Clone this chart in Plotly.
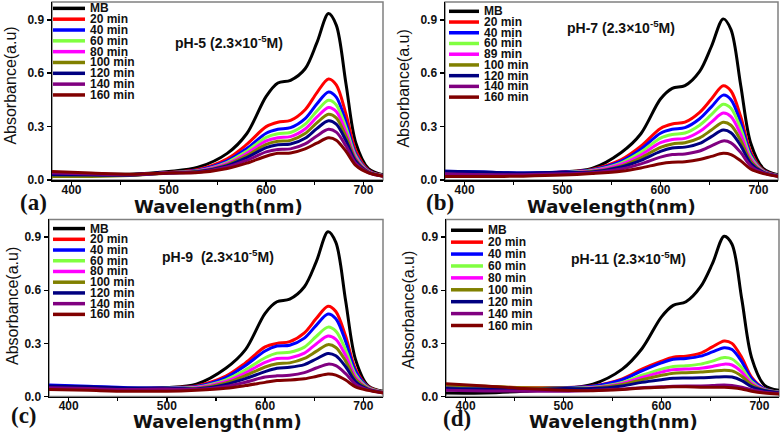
import plotly.graph_objects as go

# ---------------- data ----------------
WL = [380, 420, 460, 500, 530, 560, 580, 600, 612, 625, 640, 652, 664, 672, 682, 692, 705, 720]

LABELS_A = ["MB", "20 min", "40 min", "60 min", "80 min", "100 min", "120 min", "140 min", "160 min"]
LABELS_B = ["MB", "20 min", "40 min", "60 min", "89 min", "100 min", "120 min", "140 min", "160 min"]
COLORS = ["#000000", "#FF0000", "#0000FF", "#80FF40", "#FF00FF", "#808000", "#000080", "#800080", "#800000"]
X_TICKS = [400, 500, 600, 700]
Y_TICKS = [0.0, 0.3, 0.6, 0.9]
Y_TICK_TEXT = ["0.0", "0.3", "0.6", "0.9"]

# pH-5
A_MB = [0.040, 0.036, 0.033, 0.048, 0.072, 0.150, 0.260, 0.470, 0.545, 0.560, 0.625, 0.770, 0.935, 0.870, 0.540, 0.210, 0.065, 0.030]
A_20 = [0.040, 0.035, 0.030, 0.043, 0.060, 0.120, 0.200, 0.300, 0.325, 0.335, 0.395, 0.490, 0.568, 0.535, 0.370, 0.165, 0.055, 0.025]
A_40 = [0.035, 0.030, 0.030, 0.042, 0.056, 0.108, 0.177, 0.263, 0.285, 0.294, 0.345, 0.427, 0.495, 0.466, 0.324, 0.147, 0.052, 0.025]
A_60 = [0.030, 0.028, 0.028, 0.041, 0.053, 0.100, 0.162, 0.240, 0.260, 0.267, 0.314, 0.387, 0.448, 0.422, 0.294, 0.135, 0.049, 0.025]
A_80 = [0.035, 0.030, 0.029, 0.041, 0.051, 0.093, 0.150, 0.220, 0.238, 0.244, 0.287, 0.353, 0.408, 0.385, 0.269, 0.125, 0.048, 0.024]
A_100 = [0.020, 0.020, 0.025, 0.040, 0.049, 0.087, 0.137, 0.201, 0.218, 0.223, 0.261, 0.321, 0.370, 0.349, 0.245, 0.115, 0.046, 0.024]
A_120 = [0.030, 0.028, 0.027, 0.040, 0.047, 0.081, 0.126, 0.182, 0.198, 0.202, 0.235, 0.289, 0.333, 0.314, 0.221, 0.106, 0.044, 0.023]
A_140 = [0.040, 0.034, 0.030, 0.040, 0.044, 0.073, 0.111, 0.158, 0.172, 0.175, 0.203, 0.248, 0.285, 0.269, 0.191, 0.094, 0.042, 0.022]
A_160 = [0.048, 0.040, 0.033, 0.040, 0.042, 0.065, 0.095, 0.134, 0.150, 0.152, 0.175, 0.207, 0.237, 0.224, 0.161, 0.082, 0.040, 0.022]

# pH-7
B_MB = [0.030, 0.030, 0.035, 0.045, 0.065, 0.155, 0.260, 0.455, 0.515, 0.530, 0.610, 0.750, 0.905, 0.845, 0.530, 0.210, 0.065, 0.030]
B_20 = [0.040, 0.035, 0.035, 0.045, 0.060, 0.115, 0.190, 0.290, 0.315, 0.325, 0.380, 0.455, 0.529, 0.500, 0.355, 0.160, 0.055, 0.025]
B_40 = [0.050, 0.045, 0.040, 0.045, 0.057, 0.106, 0.173, 0.263, 0.285, 0.294, 0.344, 0.411, 0.477, 0.451, 0.321, 0.146, 0.052, 0.025]
B_60 = [0.035, 0.032, 0.032, 0.042, 0.054, 0.097, 0.157, 0.236, 0.256, 0.264, 0.308, 0.367, 0.426, 0.403, 0.288, 0.133, 0.050, 0.025]
B_89 = [0.030, 0.030, 0.030, 0.040, 0.051, 0.089, 0.141, 0.210, 0.228, 0.234, 0.273, 0.325, 0.376, 0.356, 0.255, 0.120, 0.047, 0.024]
B_100 = [0.030, 0.030, 0.030, 0.040, 0.048, 0.080, 0.125, 0.184, 0.203, 0.210, 0.237, 0.281, 0.325, 0.308, 0.222, 0.107, 0.045, 0.024]
B_120 = [0.050, 0.045, 0.040, 0.043, 0.045, 0.073, 0.110, 0.161, 0.180, 0.185, 0.206, 0.244, 0.281, 0.266, 0.193, 0.095, 0.043, 0.023]
B_140 = [0.035, 0.030, 0.030, 0.035, 0.041, 0.062, 0.091, 0.129, 0.143, 0.147, 0.163, 0.192, 0.220, 0.209, 0.154, 0.080, 0.040, 0.022]
B_160 = [0.020, 0.020, 0.022, 0.028, 0.037, 0.050, 0.068, 0.092, 0.100, 0.103, 0.115, 0.133, 0.150, 0.143, 0.108, 0.062, 0.036, 0.020]

# pH-9
C_MB = [0.055, 0.050, 0.045, 0.050, 0.070, 0.160, 0.265, 0.470, 0.535, 0.550, 0.620, 0.760, 0.930, 0.870, 0.540, 0.210, 0.060, 0.030]
C_20 = [0.055, 0.050, 0.045, 0.050, 0.060, 0.115, 0.190, 0.280, 0.300, 0.310, 0.360, 0.440, 0.510, 0.480, 0.340, 0.155, 0.055, 0.025]
C_40 = [0.065, 0.058, 0.050, 0.050, 0.057, 0.107, 0.175, 0.257, 0.285, 0.290, 0.330, 0.402, 0.466, 0.439, 0.311, 0.143, 0.053, 0.025]
C_60 = [0.050, 0.045, 0.042, 0.048, 0.053, 0.094, 0.151, 0.219, 0.245, 0.250, 0.279, 0.339, 0.392, 0.369, 0.264, 0.124, 0.049, 0.025]
C_80 = [0.050, 0.045, 0.040, 0.046, 0.050, 0.085, 0.134, 0.193, 0.215, 0.218, 0.245, 0.297, 0.342, 0.323, 0.232, 0.111, 0.046, 0.024]
C_100 = [0.045, 0.040, 0.038, 0.045, 0.046, 0.077, 0.118, 0.167, 0.185, 0.190, 0.215, 0.255, 0.293, 0.277, 0.200, 0.098, 0.044, 0.024]
C_120 = [0.060, 0.055, 0.048, 0.048, 0.043, 0.068, 0.101, 0.141, 0.160, 0.165, 0.180, 0.212, 0.243, 0.230, 0.168, 0.085, 0.041, 0.023]
C_140 = [0.050, 0.045, 0.040, 0.042, 0.040, 0.057, 0.081, 0.110, 0.117, 0.120, 0.135, 0.161, 0.183, 0.174, 0.129, 0.070, 0.038, 0.022]
C_160 = [0.040, 0.035, 0.030, 0.030, 0.036, 0.047, 0.062, 0.080, 0.090, 0.093, 0.100, 0.113, 0.127, 0.121, 0.093, 0.055, 0.035, 0.020]

# pH-11
D_MB = [0.020, 0.020, 0.030, 0.045, 0.070, 0.155, 0.270, 0.450, 0.515, 0.535, 0.620, 0.750, 0.905, 0.860, 0.550, 0.220, 0.065, 0.035]
D_20 = [0.060, 0.055, 0.050, 0.050, 0.060, 0.100, 0.155, 0.200, 0.222, 0.228, 0.245, 0.280, 0.314, 0.300, 0.220, 0.110, 0.045, 0.025]
D_40 = [0.050, 0.048, 0.045, 0.050, 0.058, 0.095, 0.145, 0.190, 0.210, 0.215, 0.228, 0.252, 0.276, 0.265, 0.197, 0.100, 0.043, 0.025]
D_60 = [0.045, 0.042, 0.040, 0.045, 0.052, 0.080, 0.120, 0.155, 0.170, 0.174, 0.183, 0.200, 0.220, 0.212, 0.162, 0.085, 0.040, 0.024]
D_80 = [0.040, 0.040, 0.038, 0.045, 0.050, 0.074, 0.108, 0.138, 0.152, 0.155, 0.160, 0.170, 0.183, 0.178, 0.138, 0.075, 0.038, 0.023]
D_100 = [0.065, 0.058, 0.050, 0.048, 0.047, 0.068, 0.095, 0.120, 0.132, 0.135, 0.138, 0.143, 0.149, 0.145, 0.115, 0.066, 0.036, 0.022]
D_120 = [0.045, 0.042, 0.040, 0.045, 0.045, 0.060, 0.080, 0.095, 0.103, 0.105, 0.106, 0.109, 0.112, 0.110, 0.090, 0.056, 0.034, 0.021]
D_140 = [0.035, 0.032, 0.030, 0.030, 0.035, 0.042, 0.050, 0.055, 0.058, 0.060, 0.060, 0.062, 0.065, 0.063, 0.053, 0.038, 0.025, 0.018]
D_160 = [0.072, 0.060, 0.045, 0.035, 0.033, 0.040, 0.048, 0.052, 0.055, 0.055, 0.053, 0.052, 0.052, 0.050, 0.043, 0.030, 0.020, 0.015]

# ---------------- layout helpers ----------------
W, H = 782, 437


def px(x):
    return x / W


def py(y):
    return 1 - y / H


panels = [
    dict(series=[A_MB, A_20, A_40, A_60, A_80, A_100, A_120, A_140, A_160], labels=LABELS_A,
         xdom=(52, 383), ydom=(2, 183), leg_line=(53, 85), leg_tx=88, leg_y0=8.5, leg_dy=11.0,
         ph="<b>pH-5</b> <b>(2.3×10<sup>-5</sup>M)</b>", ph_xy=(229, 43),
         wl_xy=(218, 210), ab_xy=(11, 87), tag="(a)", tag_xy=(33, 206)),
    dict(series=[B_MB, B_20, B_40, B_60, B_89, B_100, B_120, B_140, B_160], labels=LABELS_B,
         xdom=(445, 778), ydom=(2, 183), leg_line=(449, 479), leg_tx=482, leg_y0=11.5, leg_dy=10.9,
         ph="<b>pH-7</b> <b>(2.3×10<sup>-5</sup>M)</b>", ph_xy=(621, 27),
         wl_xy=(611, 210), ab_xy=(404, 90), tag="(b)", tag_xy=(440, 206)),
    dict(series=[C_MB, C_20, C_40, C_60, C_80, C_100, C_120, C_140, C_160], labels=LABELS_A,
         xdom=(49, 383), ydom=(223, 403), leg_line=(53, 85), leg_tx=88, leg_y0=232.3, leg_dy=10.9,
         ph="<b>pH-9</b>  <b>(2.3×10<sup>-5</sup>M)</b>", ph_xy=(218, 260),
         wl_xy=(217, 428), ab_xy=(12, 311), tag="(c)", tag_xy=(24, 422)),
    dict(series=[D_MB, D_20, D_40, D_60, D_80, D_100, D_120, D_140, D_160], labels=LABELS_A,
         xdom=(446, 779), ydom=(223, 403), leg_line=(451, 483), leg_tx=486, leg_y0=234, leg_dy=12.1,
         ph="<b>pH-11</b> <b>(2.3×10<sup>-5</sup>M)</b>", ph_xy=(628, 262),
         wl_xy=(613, 428), ab_xy=(409, 315), tag="(d)", tag_xy=(457, 425)),
]

fig = go.Figure()
shapes = []
annotations = []
layout_axes = {}

tick_font = dict(family="Arial", size=12, color="#111111", weight="bold")

for i, p in enumerate(panels):
    n = i + 1
    xs = "" if n == 1 else str(n)
    xname, yname = "x" + xs, "y" + xs
    for vals, lab, col in zip(p["series"], p["labels"], COLORS):
        fig.add_trace(go.Scatter(
            x=WL, y=vals, mode="lines", name=lab, xaxis=xname, yaxis=yname,
            line=dict(color=col, width=3, shape="spline", smoothing=0.9),
            showlegend=False, hoverinfo="skip"))

    layout_axes["xaxis" + xs] = dict(
        domain=[px(p["xdom"][0]), px(p["xdom"][1])], anchor=yname, range=[380, 720],
        tickvals=X_TICKS, ticks="outside", ticklen=4, tickwidth=1.5, tickcolor="black",
        showline=True, linecolor="black", linewidth=1.5, showgrid=False, zeroline=False,
        tickfont=tick_font, ticklabelstandoff=-6,
        minor=dict(tickvals=[450, 550, 650], ticks="outside", ticklen=3, tickwidth=1.2, tickcolor="black"))
    layout_axes["yaxis" + xs] = dict(
        domain=[py(p["ydom"][1]), py(p["ydom"][0])], anchor=xname, range=[0, 1.0],
        tickvals=Y_TICKS, ticktext=Y_TICK_TEXT, ticks="outside", ticklen=4, tickwidth=1.5,
        tickcolor="black", showline=True, linecolor="black", linewidth=1.5,
        showgrid=False, zeroline=False, tickfont=tick_font)

    # grey frame (top/right borders)
    shapes.append(dict(type="rect", xref=xname + " domain", yref=yname + " domain",
                       x0=0, x1=1, y0=0, y1=1, line=dict(color="#808080", width=1.5), layer="below"))

    # compact legend
    for j, (lab, col) in enumerate(zip(p["labels"], COLORS)):
        yy = p["leg_y0"] + j * p["leg_dy"]
        shapes.append(dict(type="line", xref="paper", yref="paper",
                           x0=px(p["leg_line"][0]), x1=px(p["leg_line"][1]), y0=py(yy), y1=py(yy),
                           line=dict(color=col, width=3.5)))
        annotations.append(dict(x=px(p["leg_tx"]), y=py(yy), xref="paper", yref="paper",
                                text="<b>%s</b>" % lab, showarrow=False, xanchor="left", yanchor="middle",
                                font=dict(family="Arial", size=12, color="#111111")))

    annotations.append(dict(x=px(p["ph_xy"][0]), y=py(p["ph_xy"][1]), xref="paper", yref="paper",
                            text=p["ph"], showarrow=False, xanchor="center", yanchor="middle",
                            font=dict(family="Arial", size=14, color="#111111")))
    annotations.append(dict(x=px(p["wl_xy"][0]), y=py(p["wl_xy"][1]), xref="paper", yref="paper",
                            text="<b>Wavelength(nm)</b>", showarrow=False, xanchor="center", yanchor="middle",
                            font=dict(family="DejaVu Sans", size=18, color="#111111")))
    annotations.append(dict(x=px(p["ab_xy"][0]), y=py(p["ab_xy"][1]), xref="paper", yref="paper",
                            text="Absorbance(a.u)", showarrow=False, textangle=-90,
                            xanchor="center", yanchor="middle",
                            font=dict(family="Arial", size=16, color="#111111")))
    annotations.append(dict(x=px(p["tag_xy"][0]), y=py(p["tag_xy"][1]), xref="paper", yref="paper",
                            text="<b>%s</b>" % p["tag"], showarrow=False, xanchor="center", yanchor="middle",
                            font=dict(family="Liberation Serif", size=23, color="#111111")))

fig.update_layout(
    width=W, height=H, margin=dict(l=0, r=0, t=0, b=0),
    paper_bgcolor="white", plot_bgcolor="white", showlegend=False,
    shapes=shapes, annotations=annotations, **layout_axes)

fig.write_html("out.html", config={"displayModeBar": False, "staticPlot": True},
               post_script="document.body.style.margin='0px';")
